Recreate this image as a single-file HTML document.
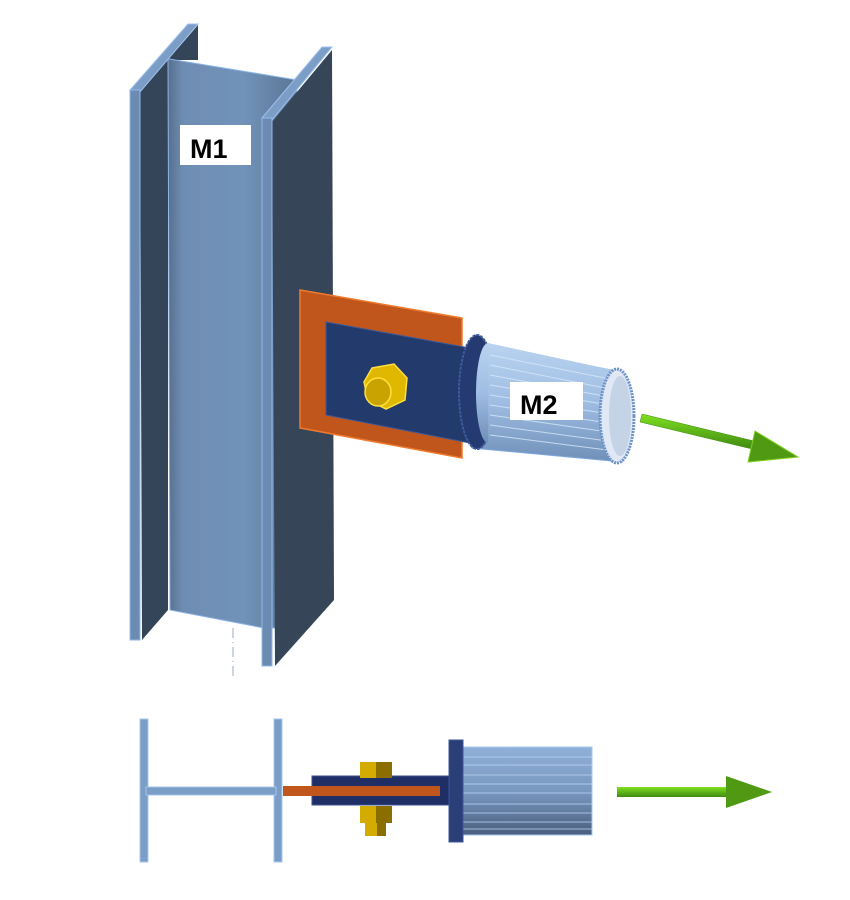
<!DOCTYPE html>
<html><head><meta charset="utf-8"><style>
html,body{margin:0;padding:0;background:#fff;width:850px;height:900px;overflow:hidden}
svg{display:block}
</style></head><body>
<svg width="850" height="900" viewBox="0 0 850 900" xmlns="http://www.w3.org/2000/svg">
<defs>
<linearGradient id="web" x1="0" x2="1" y1="0" y2="0">
<stop offset="0" stop-color="#4f6582"/><stop offset="0.15" stop-color="#6f8db3"/><stop offset="0.6" stop-color="#7193b9"/><stop offset="1" stop-color="#5a7596"/>
</linearGradient>
<linearGradient id="tube" x1="0" x2="0" y1="0" y2="1">
<stop offset="0" stop-color="#b9d3f0"/><stop offset="0.5" stop-color="#9fbde3"/><stop offset="1" stop-color="#6f8fb8"/>
</linearGradient>
<linearGradient id="tube2" x1="0" x2="0" y1="0" y2="1">
<stop offset="0" stop-color="#8fb0d8"/><stop offset="0.5" stop-color="#7998c0"/><stop offset="1" stop-color="#4a5f7e"/>
</linearGradient>
<linearGradient id="grn" x1="0" x2="0" y1="0" y2="1">
<stop offset="0" stop-color="#7fe020"/><stop offset="1" stop-color="#3f8a10"/>
</linearGradient>
</defs>

<polygon points="140,92 198,25 198,60 168,60 168,610 142,640" fill="#354559"/>
<polygon points="163,58 297,80 297,628 264,628 170,610 168,60" fill="url(#web)" stroke="#8db3e6" stroke-width="1"/>
<polygon points="272,122 332,50 334,600 275,666" fill="#364658"/>
<polygon points="130,90 188,24 198,24 140,92" fill="#7c9dc6" stroke="#9cc0ee" stroke-width="1"/>
<rect x="130" y="90" width="10" height="550" fill="#6b8bb3" stroke="#93b8ea" stroke-width="1"/>
<polygon points="262,118 322,47 332,47 272,120" fill="#7c9dc6" stroke="#9cc0ee" stroke-width="1"/>
<rect x="262" y="118" width="10" height="548" fill="#6b8bb3" stroke="#93b8ea" stroke-width="1"/>
<line x1="233" y1="628" x2="233" y2="680" stroke="#9ab" stroke-width="1" stroke-dasharray="10,4,1,4"/>

<rect x="180" y="125" width="71" height="40" fill="#fff"/>
<text x="190" y="158" font-family="Liberation Sans, sans-serif" font-weight="bold" font-size="27" fill="#000">M1</text>

<polygon points="300,290 462,318 462,458 300,428" fill="#c0561c" stroke="#f07a2e" stroke-width="1.5"/>
<polygon points="326,322 470,348 470,443 326,415" fill="#233a6c" stroke="#3c5898" stroke-width="1"/>
<polygon points="372,368 394,364 407,378 405,400 386,409 368,400 364,382" fill="#e0b800" stroke="#ffe040" stroke-width="1.5"/>
<ellipse cx="378" cy="392" rx="13" ry="14" fill="#c9a300" stroke="#ffe040" stroke-width="1.5"/>

<polygon points="472,343 622,372 622,462 472,448" fill="url(#tube)" stroke="#7fa8e0" stroke-width="1"/>
<ellipse cx="477" cy="392" rx="18" ry="57" fill="#243a70" stroke="#3d5a9c" stroke-width="2" stroke-dasharray="3,1"/>
<ellipse cx="488" cy="393" rx="12" ry="50" fill="url(#tube)"/>
<polygon points="488,343 622,372 622,462 488,443" fill="url(#tube)"/>
<g stroke="#d8e8fa" stroke-width="1" opacity="0.8">
<line x1="490" y1="355" x2="615" y2="380"/><line x1="490" y1="365" x2="615" y2="390"/>
<line x1="490" y1="375" x2="615" y2="398"/><line x1="490" y1="385" x2="615" y2="406"/>
<line x1="490" y1="395" x2="615" y2="415"/><line x1="490" y1="405" x2="615" y2="424"/>
<line x1="490" y1="415" x2="615" y2="433"/><line x1="490" y1="425" x2="615" y2="442"/>
<line x1="490" y1="435" x2="615" y2="451"/>
</g>
<ellipse cx="617" cy="416" rx="17" ry="47" fill="#dfe8f4" stroke="#6e94c8" stroke-width="3" stroke-dasharray="2,1"/>
<ellipse cx="620" cy="416" rx="11" ry="40" fill="#c5d3e6"/>

<rect x="510" y="382" width="73" height="38" fill="#fff"/>
<text x="520" y="414" font-family="Liberation Sans, sans-serif" font-weight="bold" font-size="27" fill="#000">M2</text>

<polygon points="642,414 754,441 752,449 640,422" fill="url(#grn)" stroke="#3f8a10" stroke-width="0.5"/>
<polygon points="755,431 798,457 748,462" fill="#4f9a12" stroke="#7fd020" stroke-width="1"/>

<rect x="140" y="719" width="8" height="143" fill="#7b9ec6" stroke="#a6c6ef" stroke-width="1"/>
<rect x="274" y="719" width="8" height="143" fill="#7b9ec6" stroke="#a6c6ef" stroke-width="1"/>
<rect x="146" y="787" width="130" height="8" fill="#7b9ec6" stroke="#a6c6ef" stroke-width="1"/>
<rect x="312" y="776" width="138" height="29" fill="#1f2f66" stroke="#3b5090" stroke-width="1"/>
<rect x="283" y="786" width="157" height="10" fill="#c0561c"/>
<rect x="360" y="762" width="32" height="16" fill="#d4ac00"/>
<rect x="376" y="762" width="16" height="16" fill="#8a6f00"/>
<rect x="360" y="806" width="32" height="17" fill="#d4ac00"/>
<rect x="376" y="806" width="16" height="17" fill="#8a6f00"/>
<rect x="365" y="823" width="21" height="13" fill="#d4ac00"/>
<rect x="377" y="823" width="9" height="13" fill="#8a6f00"/>
<rect x="462" y="747" width="130" height="88" fill="url(#tube2)" stroke="#a8c8f0" stroke-width="1"/>
<g stroke="#b8d2f2" stroke-width="1" opacity="0.8">
<line x1="462" y1="757" x2="592" y2="757"/><line x1="462" y1="765" x2="592" y2="765"/>
<line x1="462" y1="775" x2="592" y2="775"/><line x1="462" y1="784" x2="592" y2="784"/>
<line x1="462" y1="793" x2="592" y2="793"/><line x1="462" y1="804" x2="592" y2="804"/>
<line x1="462" y1="813" x2="592" y2="813"/><line x1="462" y1="822" x2="592" y2="822"/>
<line x1="462" y1="829" x2="592" y2="829"/>
</g>
<rect x="449" y="740" width="14" height="102" fill="#2a3f78" stroke="#3d5698" stroke-width="1"/>
<rect x="617" y="787" width="110" height="10" fill="url(#grn)"/>
<polygon points="726,776 772,792 726,808" fill="#4f9a12"/>
</svg>
</body></html>
